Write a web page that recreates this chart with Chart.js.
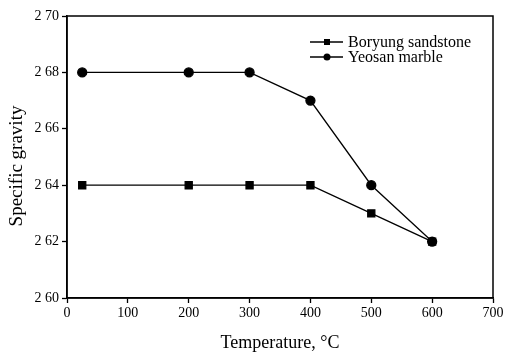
<!DOCTYPE html>
<html>
<head>
<meta charset="utf-8">
<script src="https://cdn.jsdelivr.net/npm/chart.js@4/dist/chart.umd.min.js"></script>
<style>
html,body{margin:0;padding:0;background:#fff;}
#wrap{width:507px;height:354px;}
</style>
</head>
<body>
<div id="wrap"><canvas id="c" width="507" height="354"></canvas></div>
<script>
const temperatures = [25, 200, 300, 400, 500, 600];
const boryungSandstone = [2.64, 2.64, 2.64, 2.64, 2.63, 2.62];
const yeosanMarble = [2.68, 2.68, 2.68, 2.67, 2.64, 2.62];
const seriesNames = ['Boryung sandstone', 'Yeosan marble'];
const xTicks = [0, 100, 200, 300, 400, 500, 600, 700];
const yTicks = [2.60, 2.62, 2.64, 2.66, 2.68, 2.70];
const yTickLabels = ['2 60', '2 62', '2 64', '2 66', '2 68', '2 70'];
const xTitle = 'Temperature, \u00B0C';
const yTitle = 'Specific gravity';

const FONT = '"Liberation Serif", "Times New Roman", serif';

const frameAndLegend = {
  id: 'frameAndLegend',
  afterDraw(chart) {
    const ctx = chart.ctx;
    const a = chart.chartArea;
    ctx.save();
    ctx.strokeStyle = '#000';
    ctx.lineWidth = 1.5;
    ctx.strokeRect(a.left, a.top, a.right - a.left, a.bottom - a.top);
    // y-axis title
    ctx.save();
    ctx.translate(17, 166);
    ctx.rotate(-Math.PI / 2);
    ctx.font = '19px ' + FONT;
    ctx.textAlign = 'center';
    ctx.textBaseline = 'middle';
    ctx.fillStyle = '#000';
    ctx.fillText(yTitle, 0, 0);
    ctx.restore();
    // legend
    const x0 = 310, x1 = 343, tx = 348;
    const rows = [42, 57];
    ctx.font = '16px ' + FONT;
    ctx.textBaseline = 'middle';
    ctx.textAlign = 'left';
    ctx.fillStyle = '#000';
    chart.data.datasets.forEach((ds, i) => {
      const y = rows[i];
      ctx.lineWidth = 1.3;
      ctx.beginPath();
      ctx.moveTo(x0, y);
      ctx.lineTo(x1, y);
      ctx.stroke();
      const cx = 327;
      ctx.beginPath();
      if (ds.pointStyle === 'rect') {
        ctx.rect(cx - 3, y - 3, 6, 6);
      } else {
        ctx.arc(cx, y, 3.5, 0, Math.PI * 2);
      }
      ctx.fill();
      ctx.fillText(ds.label, tx, y + 1);
    });
    ctx.restore();
  }
};

new Chart(document.getElementById('c'), {
  type: 'scatter',
  data: {
    datasets: [
      {
        label: seriesNames[0],
        data: temperatures.map((t, i) => ({x: t, y: boryungSandstone[i]})),
        showLine: true,
        borderColor: '#000',
        backgroundColor: '#000',
        borderWidth: 1.3,
        pointStyle: 'rect',
        pointRadius: 5,
        pointHoverRadius: 5,
        tension: 0
      },
      {
        label: seriesNames[1],
        data: temperatures.map((t, i) => ({x: t, y: yeosanMarble[i]})),
        showLine: true,
        borderColor: '#000',
        backgroundColor: '#000',
        borderWidth: 1.3,
        pointStyle: 'circle',
        pointRadius: 4.5,
        pointHoverRadius: 4.5,
        tension: 0
      }
    ]
  },
  options: {
    responsive: false,
    animation: false,
    devicePixelRatio: 1,
    layout: {padding: {left: 0, right: 14, top: 16, bottom: 0}},
    plugins: {legend: {display: false}, tooltip: {enabled: false}},
    scales: {
      x: {
        type: 'linear',
        min: 0, max: 700,
        afterBuildTicks(s) { s.ticks = xTicks.map(v => ({value: v})); },
        afterFit(s) { s.height = 56; },
        ticks: {color: '#000', font: {family: FONT, size: 14}, padding: 2},
        grid: {drawOnChartArea: false, tickLength: 5, color: '#000', tickWidth: 1.3},
        border: {display: true, color: '#000', width: 1.5},
        title: {display: true, text: xTitle, color: '#000', font: {family: FONT, size: 18}, padding: {top: 4, bottom: 0}}
      },
      y: {
        type: 'linear',
        min: 2.60, max: 2.70,
        afterBuildTicks(s) { s.ticks = yTicks.map(v => ({value: v})); },
        afterFit(s) { s.width = 67; },
        ticks: {
          color: '#000', font: {family: FONT, size: 14}, padding: 3,
          callback(v) { const i = yTicks.findIndex(t => Math.abs(t - v) < 1e-6); return i >= 0 ? yTickLabels[i] : ''; }
        },
        grid: {drawOnChartArea: false, tickLength: 5, color: '#000', tickWidth: 1.3},
        border: {display: true, color: '#000', width: 1.5},
        title: {display: false}
      }
    }
  },
  plugins: [frameAndLegend]
});
</script>
</body>
</html>
